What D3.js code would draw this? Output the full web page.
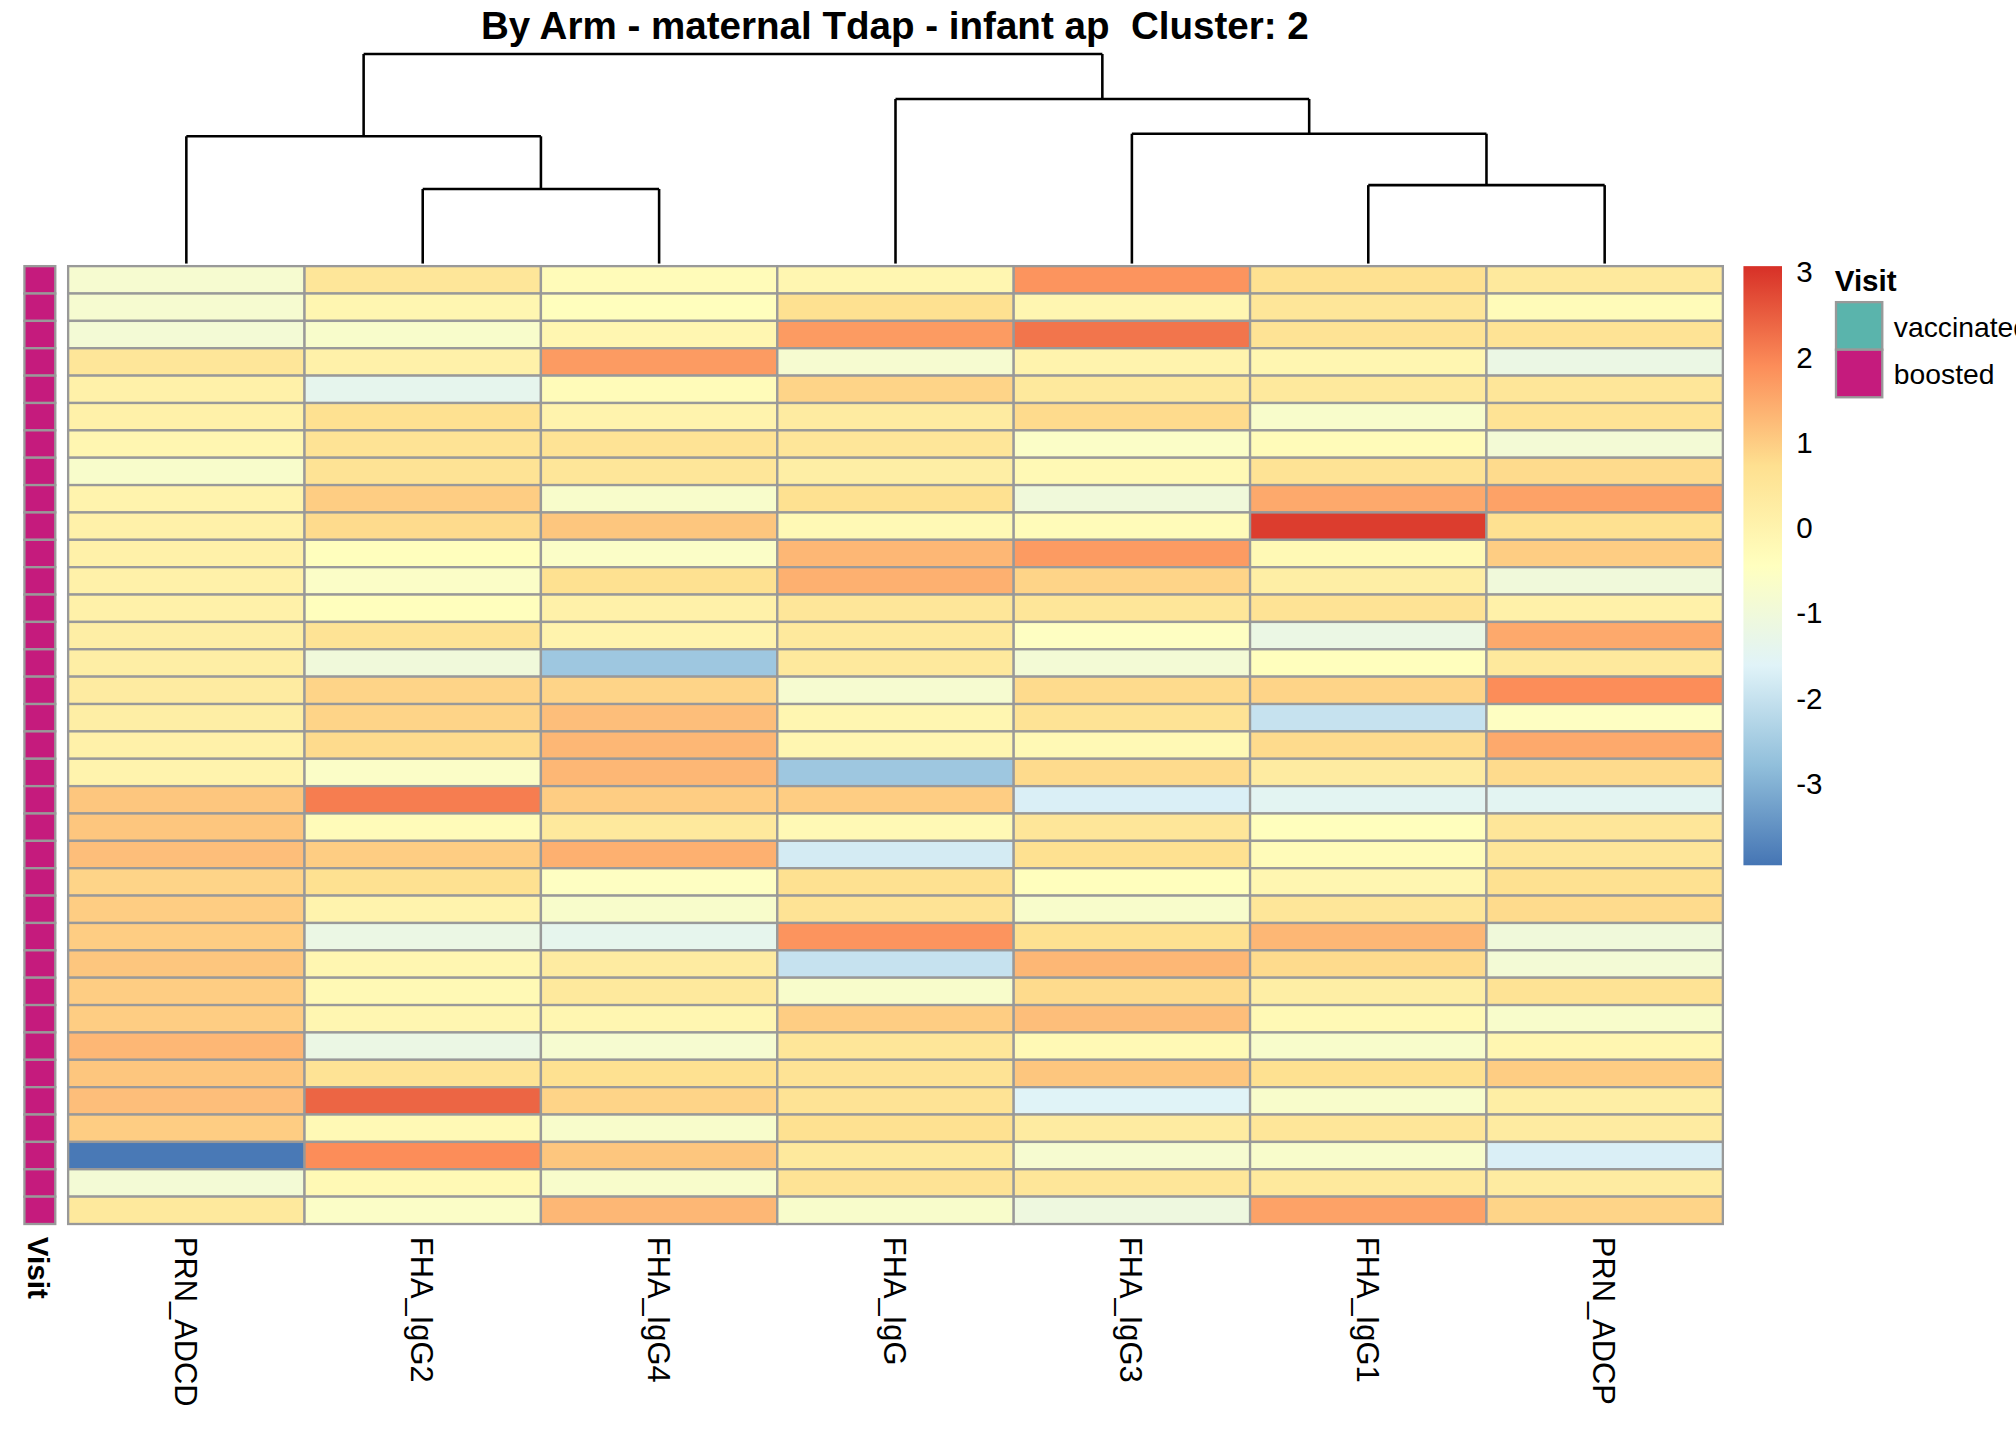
<!DOCTYPE html>
<html>
<head>
<meta charset="utf-8">
<script src="https://cdn.jsdelivr.net/npm/d3@7"></script>
<style>
  body { margin: 0; background: #fff; }
  text { font-family: "Liberation Sans", Arial, sans-serif; }
</style>
</head>
<body>
<svg id="chart" width="2016" height="1440"></svg>
<script>
// column order as drawn (dendrogram leaf order)
var features = ["PRN_ADCD", "FHA_IgG2", "FHA_IgG4", "FHA_IgG", "FHA_IgG3", "FHA_IgG1", "PRN_ADCP"];

// scaled values, one row per sample
var values = [
  [-0.8, 0.5, -0.3, -0.1, 1.8, 0.7, 0.4],
  [-0.8, -0.1, -0.4, 0.7, -0.1, 0.5, -0.3],
  [-0.9, -0.7, -0.1, 1.7, 2.2, 0.6, 0.6],
  [0.5, 0.1, 1.7, -0.8, 0.0, -0.1, -1.2],
  [0.1, -1.4, -0.3, 0.9, 0.4, 0.4, 0.5],
  [0.1, 0.7, 0.0, 0.3, 0.8, -0.7, 0.6],
  [-0.1, 0.6, 0.6, 0.5, -0.6, -0.3, -0.9],
  [-0.7, 0.6, 0.5, 0.2, -0.2, 0.6, 0.8],
  [0.0, 1.0, -0.7, 0.7, -1.0, 1.5, 1.6],
  [0.1, 0.8, 1.1, -0.2, -0.3, 2.9, 0.7],
  [0.1, -0.4, -0.6, 1.3, 1.7, -0.2, 1.0],
  [0.1, -0.6, 0.7, 1.4, 0.9, 0.2, -1.0],
  [0.1, -0.4, 0.1, 0.5, 0.5, 0.6, 0.1],
  [0.2, 0.6, 0.0, 0.4, -0.5, -1.2, 1.5],
  [0.2, -1.0, -2.6, 0.4, -0.9, -0.4, 0.4],
  [0.3, 0.9, 0.9, -0.8, 0.8, 0.9, 1.9],
  [0.2, 0.9, 1.2, -0.1, 0.6, -2.0, -0.5],
  [0.1, 0.8, 1.3, -0.1, -0.2, 0.8, 1.5],
  [0.0, -0.6, 1.3, -2.6, 0.8, 0.3, 0.8],
  [1.1, 2.1, 1.0, 1.0, -1.7, -1.5, -1.5],
  [1.1, -0.3, 0.4, -0.2, 0.5, -0.4, 0.5],
  [1.2, 1.0, 1.4, -1.8, 0.7, -0.3, 0.5],
  [0.9, 0.7, -0.5, 0.7, -0.4, -0.1, 0.7],
  [1.0, 0.0, -0.7, 0.6, -0.7, 0.5, 0.8],
  [1.0, -1.2, -1.4, 1.8, 0.7, 1.3, -1.0],
  [1.1, -0.1, 0.3, -2.0, 1.3, 0.8, -0.9],
  [1.0, -0.2, 0.4, -0.7, 0.8, 0.2, 0.6],
  [1.0, -0.1, -0.1, 1.0, 1.2, -0.2, -0.7],
  [1.3, -1.2, -0.8, 0.5, -0.2, -0.7, -0.1],
  [1.1, 0.6, 0.7, 0.6, 1.1, 0.7, 1.0],
  [1.2, 2.4, 0.9, 0.6, -1.6, -0.7, 0.2],
  [1.0, -0.2, -0.7, 0.7, 0.3, 0.5, 0.3],
  [-3.9, 1.9, 1.1, 0.4, -0.8, -0.7, -1.7],
  [-0.9, -0.2, -0.7, 0.6, 0.5, 0.4, 0.3],
  [0.4, -0.6, 1.3, -0.7, -1.1, 1.6, 0.9]
];

var visits = values.map(function() { return "boosted"; });
var visitLevels = ["vaccinated", "boosted"];
var visitColors = ["#5AB4AC", "#C51B7D"];
var legendTicks = [3, 2, 1, 0, -1, -2, -3];
var valueMin = -3.96, valueMax = 3.07;

// column dendrogram, heights in merge units
var tree = { h: 163, children: [
  { h: 99, children: [ { leaf: 0 }, { h: 58, children: [ { leaf: 1 }, { leaf: 2 } ] } ] },
  { h: 128, children: [ { leaf: 3 }, { h: 101, children: [ { leaf: 4 }, { h: 61, children: [ { leaf: 5 }, { leaf: 6 } ] } ] } ] }
] };

var W = 1568;
var svg = d3.select("#chart");
var root = svg.append("g").attr("transform", "scale(" + (2016 / W) + ")");

var hm = { left: 53, right: 1340, top: 207, bottom: 952 };

var x = d3.scaleBand().domain(d3.range(features.length)).range([hm.left, hm.right]);
var y = d3.scaleBand().domain(d3.range(values.length)).range([hm.top, hm.bottom]);

var palette = ["#4575B4", "#91BFDB", "#E0F3F8", "#FFFFBF", "#FEE090", "#FC8D59", "#D73027"];
var color = d3.scaleLinear()
  .domain(d3.range(palette.length).map(function(i) { return valueMin + i * (valueMax - valueMin) / (palette.length - 1); }))
  .range(palette).clamp(true);

// title
root.append("text")
  .attr("x", 696).attr("y", 30)
  .attr("text-anchor", "middle")
  .style("font-size", "30px").style("font-weight", "bold")
  .style("white-space", "pre")
  .text("By Arm - maternal Tdap - infant ap  Cluster: 2");

// heatmap cells
var rows = root.append("g").selectAll("g").data(values).join("g");
rows.selectAll("rect")
  .data(function(d, i) { return d.map(function(v, j) { return { row: i, col: j, v: v }; }); })
  .join("rect")
  .attr("x", function(d) { return x(d.col); })
  .attr("y", function(d) { return y(d.row); })
  .attr("width", x.bandwidth())
  .attr("height", y.bandwidth())
  .attr("fill", function(d) { return color(d.v); })
  .attr("stroke", "#999").attr("stroke-width", 1.8);

// annotation column
var visitColor = d3.scaleOrdinal().domain(visitLevels).range(visitColors);
root.append("g").selectAll("rect").data(visits).join("rect")
  .attr("x", 19).attr("width", 24)
  .attr("y", function(d, i) { return y(i); })
  .attr("height", y.bandwidth())
  .attr("fill", function(d) { return visitColor(d); })
  .attr("stroke", "#999").attr("stroke-width", 1.8);

root.append("text")
  .attr("transform", "translate(22,962) rotate(90)")
  .style("font-size", "23px").style("font-weight", "bold")
  .text("Visit");

// column labels
root.append("g").selectAll("text").data(features).join("text")
  .attr("transform", function(d, i) { return "translate(" + (x(i) + x.bandwidth() / 2 - 9) + ",962) rotate(90)"; })
  .style("font-size", "24px")
  .text(function(d) { return d; });

// dendrogram
var dy = d3.scaleLinear().domain([0, 163]).range([hm.top, 44]);
function layout(n) {
  if (n.leaf !== undefined) { n.x = x(n.leaf) + x.bandwidth() / 2; n.h = 0; return n; }
  n.children.forEach(layout);
  n.x = (n.children[0].x + n.children[1].x) / 2;
  return n;
}
layout(tree);
var segs = [];
(function walk(n) {
  if (!n.children) return;
  var a = n.children[0], b = n.children[1];
  segs.push([a.x, dy(a.h), a.x, dy(n.h)]);
  segs.push([a.x, dy(n.h), b.x, dy(n.h)]);
  segs.push([b.x, dy(n.h), b.x, dy(b.h)]);
  walk(a); walk(b);
})(tree);
root.append("g").selectAll("line").data(segs).join("line")
  .attr("x1", function(d) { return d[0]; }).attr("y1", function(d) { return d[1] - 2; })
  .attr("x2", function(d) { return d[2]; }).attr("y2", function(d) { return d[3] - 2; })
  .attr("stroke", "#000").attr("stroke-width", 2);

// colour legend
var ly = d3.scaleLinear().domain([valueMin, valueMax]).range([673, 207]);
var grad = svg.append("defs").append("linearGradient").attr("id", "grad")
  .attr("x1", 0).attr("y1", 1).attr("x2", 0).attr("y2", 0);
palette.forEach(function(c, i) {
  grad.append("stop").attr("offset", (i / (palette.length - 1) * 100) + "%").attr("stop-color", c);
});
root.append("rect").attr("x", 1356).attr("y", 207).attr("width", 30).attr("height", 466)
  .attr("fill", "url(#grad)");
root.append("g").selectAll("text").data(legendTicks).join("text")
  .attr("x", 1397).attr("y", function(d) { return ly(d) + 8; })
  .style("font-size", "23px")
  .text(function(d) { return d; });

// annotation legend
root.append("text").attr("x", 1427).attr("y", 226)
  .style("font-size", "23px").style("font-weight", "bold").text("Visit");
var al = root.append("g").selectAll("g").data(visitLevels).join("g")
  .attr("transform", function(d, i) { return "translate(1428," + (235 + i * 37) + ")"; });
al.append("rect").attr("width", 36).attr("height", 37)
  .attr("fill", function(d) { return visitColor(d); })
  .attr("stroke", "#999").attr("stroke-width", 1.8);
al.append("text").attr("x", 45).attr("y", 27).style("font-size", "22px")
  .text(function(d) { return d; });
</script>
</body>
</html>
